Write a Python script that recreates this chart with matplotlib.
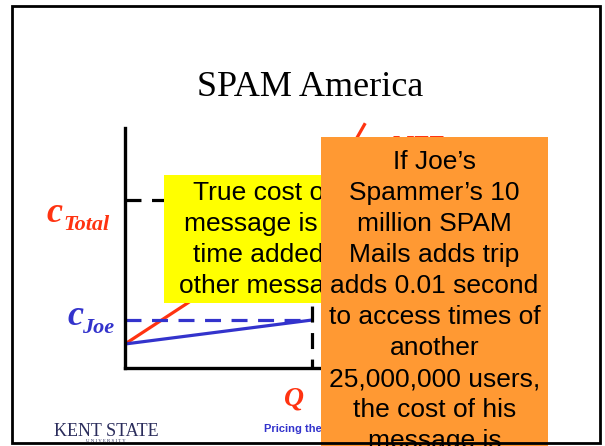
import matplotlib.pyplot as plt
from matplotlib.patches import Rectangle

# diagram data (Q on x, cost on y)
q_mtt = [0, 1, 2, 3, 4, 5, 6, 7, 7.7]
c_mtt = [1.0, 1.85, 2.7, 3.6, 4.6, 5.7, 7.0, 8.6, 10.2]
q_joe = [0, 6]
c_joe_line = [1.0, 2.0]
q_star = 6
c_joe = 2.0
c_total = 7.0

yellow_lines = ['True cost of a', 'message is the', 'time added to', 'other messages']
orange_lines = ['If Joe\u2019s', 'Spammer\u2019s 10', 'million SPAM', 'Mails adds trip',
                'adds 0.01 second', 'to access times of', 'another',
                '25,000,000 users,', 'the cost of his', 'message is']

RED = '#FF3311'
BLUE = '#3333CC'
SERIF = 'Liberation Serif'
SANS = 'Liberation Sans'

W, H = 605, 446
fig = plt.figure(figsize=(6.05, 4.46), dpi=100)

# slide background, pixel coordinates
bg = fig.add_axes([0, 0, 1, 1], label='bg')
bg.set_xlim(0, W)
bg.set_ylim(H, 0)
bg.axis('off')

bg.text(310, 96, 'SPAM America', ha='center', va='baseline', fontsize=26, family=SERIF)

bg.text(46, 222, 'c', color=RED, fontsize=26, family=SERIF, weight='bold', style='italic', va='baseline')
bg.text(63, 230, 'Total', color=RED, fontsize=16, family=SERIF, weight='bold', style='italic', va='baseline')
bg.text(67, 325, 'c', color=BLUE, fontsize=26, family=SERIF, weight='bold', style='italic', va='baseline')
bg.text(82, 333, 'Joe', color=BLUE, fontsize=16, family=SERIF, weight='bold', style='italic', va='baseline')

bg.text(294, 405, 'Q', color=RED, fontsize=20, family=SERIF, weight='bold', style='italic',
        ha='center', va='baseline')
bg.text(390, 153, 'MTT', color=RED, fontsize=18, family=SERIF, weight='bold', style='italic', va='baseline')
bg.text(264, 432, 'Pricing the Internet', color=BLUE, fontsize=8, family=SANS, weight='bold', va='baseline')

bg.text(106, 436, 'KENT STATE', color='#2b2d5c', fontsize=13, family=SERIF, ha='center', va='baseline')
bg.text(106, 442, 'U N I V E R S I T Y', color='#2b2d5c', fontsize=3.5, family=SERIF, ha='center',
        va='baseline')

# the diagram itself
ax = fig.add_axes([125 / W, (H - 368) / H, 312 / W, 240 / H])
ax.set_xlim(0, 10)
ax.set_ylim(0, 10)
ax.patch.set_alpha(0)
for s in ['top', 'right']:
    ax.spines[s].set_visible(False)
for s in ['left', 'bottom']:
    ax.spines[s].set_linewidth(2.4)
ax.set_xticks([])
ax.set_yticks([])

ax.plot(q_mtt, c_mtt, color=RED, lw=2.3, clip_on=False, solid_capstyle='butt')
ax.plot(q_joe, c_joe_line, color=BLUE, lw=2.3)
ax.plot([0, q_star], [c_joe, c_joe], color=BLUE, lw=2.3, dashes=(5, 3.3))
ax.plot([0, q_star], [c_total, c_total], color='black', lw=2.3, dashes=(5, 3.3))
ax.plot([q_star, q_star], [c_total, 0], color='black', lw=2.3, dashes=(5, 3.3))

# callout boxes on top
top = fig.add_axes([0, 0, 1, 1], label='top')
top.set_xlim(0, W)
top.set_ylim(H, 0)
top.axis('off')
top.patch.set_alpha(0)

top.add_patch(Rectangle((164, 175), 222, 128, fc='#FFFF00', ec='none', zorder=1))
for i, line in enumerate(yellow_lines):
    top.text(273, 200 + 31 * i, line, ha='center', va='baseline', fontsize=19, family=SANS, zorder=2)

top.add_patch(Rectangle((321, 137), 227, 320, fc='#FF9933', ec='none', zorder=3))
for i, line in enumerate(orange_lines):
    top.text(434.5, 169 + 31 * i, line, ha='center', va='baseline', fontsize=19, family=SANS, zorder=4)

# slide frame
top.add_patch(Rectangle((12, 6), 588, 437, fill=False, ec='black', lw=2, zorder=5))

fig.savefig('out.png', dpi=100)
